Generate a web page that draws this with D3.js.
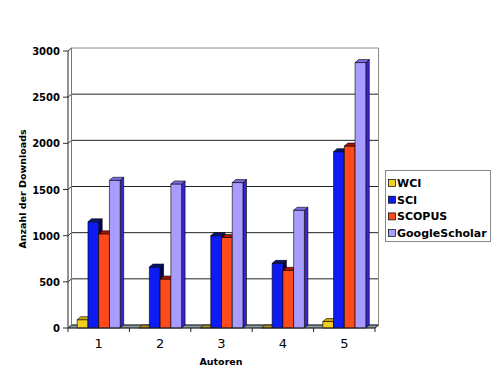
<!DOCTYPE html>
<html>
<head>
<meta charset="utf-8">
<script src="https://cdn.jsdelivr.net/npm/d3@7"></script>
<style>
  body { margin: 0; background: #fff; }
  svg text { font-family: "DejaVu Sans", Verdana, sans-serif; }
</style>
</head>
<body>
<svg id="chart" width="500" height="376"></svg>
<script>
// data
const categories = ["1", "2", "3", "4", "5"];
const seriesNames = ["WCI", "SCI", "SCOPUS", "GoogleScholar"];
const wci = [90, 0, 0, 0, 70];
const sci = [1150, 660, 1000, 700, 1910];
const scopus = [1020, 530, 980, 625, 1970];
const googleScholar = [1600, 1560, 1575, 1275, 2875];
const yTicks = [0, 500, 1000, 1500, 2000, 2500, 3000];

const seriesValues = [wci, sci, scopus, googleScholar];

// face colours per series: front, top, side
const faces = {
  WCI: ["#f2cf1c", "#c9a616", "#9c7d00"],
  SCI: ["#0c1cf2", "#0a1570", "#00005c"],
  SCOPUS: ["#ff4a1c", "#a81400", "#7a1800"],
  GoogleScholar: ["#a99cff", "#7c6ce6", "#3826cc"]
};

const svg = d3.select("#chart");

// 3D depth offset (back plane = front + dx, -dy)
const dx = 3.5, dy = 3;
const x0Front = 68, x1Front = 375;
const baseFront = 328;

const y = d3.scaleLinear().domain([0, 3000]).range([baseFront - dy, 48]); // back wall
const yF = v => y(v) + dy;                                           // front plane

const x = d3.scaleBand().domain(categories).range([x0Front, x1Front]);
const groupW = 43;
const xs = d3.scaleBand().domain(seriesNames)
  .range([x.bandwidth() / 2 - groupW / 2, x.bandwidth() / 2 + groupW / 2]);

const pts = a => a.map(p => p.join(",")).join(" ");

// floor
svg.append("polygon")
  .attr("points", pts([[x0Front, baseFront], [x1Front, baseFront],
                       [x1Front + dx, baseFront - dy], [x0Front + dx, baseFront - dy]]))
  .attr("fill", "#8c9ea4").attr("stroke", "#555").attr("stroke-width", 0.6);

// back wall gridlines
const grid = svg.append("g");
yTicks.forEach(t => {
  grid.append("line")
    .attr("x1", x0Front + dx).attr("x2", x1Front + dx)
    .attr("y1", y(t)).attr("y2", y(t))
    .attr("stroke", t === 3000 ? "#888" : "#222").attr("stroke-width", 1);
  // left wall diagonal + front tick
  grid.append("polyline")
    .attr("points", pts([[x0Front - 5, yF(t)], [x0Front, yF(t)], [x0Front + dx, y(t)]]))
    .attr("fill", "none").attr("stroke", "#333").attr("stroke-width", 1);
});
// wall edges
grid.append("line").attr("x1", x0Front + dx).attr("x2", x0Front + dx)
  .attr("y1", y(3000)).attr("y2", y(0)).attr("stroke", "#777");
grid.append("line").attr("x1", x1Front + dx).attr("x2", x1Front + dx)
  .attr("y1", y(3000)).attr("y2", y(0)).attr("stroke", "#888");
// front y axis line
grid.append("line").attr("x1", x0Front).attr("x2", x0Front)
  .attr("y1", yF(3000)).attr("y2", baseFront).attr("stroke", "#222");

// y tick labels
svg.append("g").selectAll("text").data(yTicks).join("text")
  .attr("x", 60).attr("y", d => yF(d) + 4)
  .attr("text-anchor", "end")
  .attr("font-size", 10).attr("font-weight", "bold")
  .text(d => d);

// bars, drawn left to right so the side faces tuck behind the next bar
const bars = svg.append("g");
categories.forEach((c, ci) => {
  seriesNames.forEach((s, si) => {
    const v = seriesValues[si][ci];
    const bx = x(c) + xs(s), w = xs.bandwidth();
    const top = yF(v);
    const [cFront, cTop, cSide] = faces[s];
    const g = bars.append("g").attr("stroke", "#000").attr("stroke-width", 0.6)
      .attr("stroke-linejoin", "round");
    if (v > 0) {
      g.append("polygon")
        .attr("points", pts([[bx + w, top], [bx + w + dx, top - dy],
                             [bx + w + dx, baseFront - dy], [bx + w, baseFront]]))
        .attr("fill", cSide);
      g.append("rect")
        .attr("x", bx).attr("y", top).attr("width", w).attr("height", baseFront - top)
        .attr("fill", cFront);
    }
    g.append("polygon")
      .attr("points", pts([[bx, top], [bx + dx, top - dy], [bx + w + dx, top - dy], [bx + w, top]]))
      .attr("fill", v > 0 ? cTop : "#a89018");
  });
});

// x axis front line and ticks
const xa = svg.append("g").attr("stroke", "#222");
xa.append("line").attr("x1", x0Front).attr("x2", x1Front)
  .attr("y1", baseFront).attr("y2", baseFront);
xa.append("line").attr("x1", x1Front).attr("x2", x1Front + dx)
  .attr("y1", baseFront).attr("y2", baseFront - dy);
d3.range(categories.length + 1).forEach(i => {
  const tx = x0Front + i * x.step();
  xa.append("line").attr("x1", tx).attr("x2", tx)
    .attr("y1", baseFront).attr("y2", baseFront + 4);
});

// category labels
svg.append("g").selectAll("text").data(categories).join("text")
  .attr("x", d => x(d) + x.bandwidth() / 2).attr("y", 348)
  .attr("text-anchor", "middle").attr("font-size", 13)
  .text(d => d);

// axis titles
svg.append("text")
  .attr("x", 221).attr("y", 364.5)
  .attr("text-anchor", "middle").attr("font-size", 9.5).attr("font-weight", "bold")
  .text("Autoren");
svg.append("text")
  .attr("transform", "translate(26,189) rotate(-90)")
  .attr("text-anchor", "middle").attr("font-size", 9.5).attr("font-weight", "bold")
  .text("Anzahl der Downloads");

// legend
const legend = svg.append("g");
legend.append("rect")
  .attr("x", 385.5).attr("y", 170.5).attr("width", 105).attr("height", 71)
  .attr("fill", "#fff").attr("stroke", "#888");
seriesNames.forEach((s, i) => {
  const ly = 183 + i * 16.7;
  legend.append("rect")
    .attr("x", 388.5).attr("y", ly - 3.5).attr("width", 7).attr("height", 7)
    .attr("fill", faces[s][0]).attr("stroke", "#000").attr("stroke-width", 0.7);
  legend.append("text")
    .attr("x", 397).attr("y", ly + 4)
    .attr("font-size", 11).attr("font-weight", "bold")
    .text(s);
});
</script>
</body>
</html>
